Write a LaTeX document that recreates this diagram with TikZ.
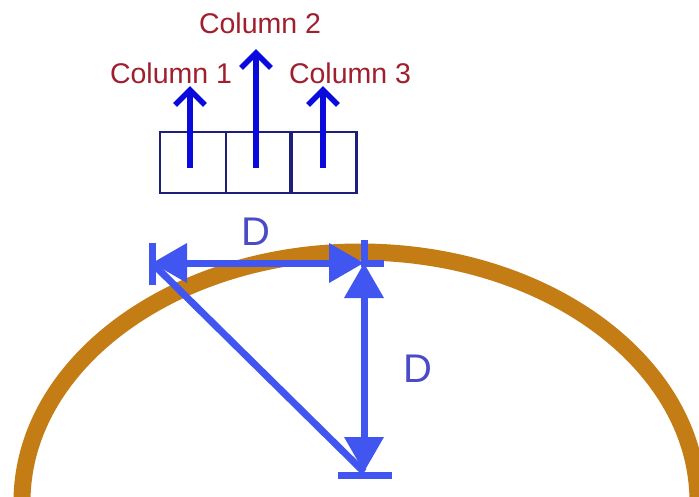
\documentclass[tikz,border=0pt]{standalone}
\usepackage{fontspec}
\setmainfont{Liberation Sans}
\usetikzlibrary{arrows.meta}
\definecolor{colred}{RGB}{160,30,45}
\definecolor{boxnavy}{RGB}{30,30,125}
\definecolor{arrblue}{RGB}{10,10,220}
\definecolor{dimblue}{RGB}{65,85,240}
\definecolor{dblue}{RGB}{75,75,200}
\definecolor{ringbrown}{RGB}{195,125,20}
\tikzset{
  colbox/.style={draw=boxnavy, line width=2.2pt, minimum width=66pt, minimum height=61pt, inner sep=0pt},
  collabel/.style={text=colred, font=\fontsize{28.5}{32}\selectfont, inner sep=0pt},
  uparrow/.style={draw=arrblue, line width=5.5pt, -{Straight Barb[length=15pt,width=30pt,line width=5.5pt]}},
  dimline/.style={draw=dimblue, line width=7pt},
  dimarrow/.style={dimline, {Triangle[length=35pt,width=38pt]}-{Triangle[length=35pt,width=38pt]}},
  dlabel/.style={text=dblue, font=\fontsize{40}{44}\selectfont, inner sep=0pt},
  ring/.style={draw=ringbrown, line width=17pt}
}
\begin{document}
\begin{tikzpicture}[x=1pt,y=-1pt]
\clip (0,0) rectangle (699,496);
\fill[white] (0,0) rectangle (699,496);
% ring
\draw[ring] (360,502) ellipse [x radius=338pt, y radius=250pt];
% boxes
\node[colbox] (b1) at (193,162.5) {};
\node[colbox] (b2) at (259,162.5) {};
\node[colbox] (b3) at (323.5,162.5) {};
% column arrows
\coordinate (a1s) at (190,168); \coordinate (a1e) at (190,86);
\coordinate (a2s) at (256,168); \coordinate (a2e) at (256,49);
\coordinate (a3s) at (323,168); \coordinate (a3e) at (323,86);
\draw[uparrow] (a1s) -- (a1e);
\draw[uparrow] (a2s) -- (a2e);
\draw[uparrow] (a3s) -- (a3e);
% labels
\node[collabel] (c2) at (260,23) {Column 2};
\node[collabel] (c1) at (171,73) {Column 1};
\node[collabel] (c3) at (350,73) {Column 3};
% dimension geometry
\coordinate (L) at (152,263);
\coordinate (R) at (364,263);
\coordinate (B) at (364,472);
\coordinate (Lt) at (152,243); \coordinate (Lb) at (152,285);
\coordinate (Rt) at (364,240);
\coordinate (Rx) at (384,263);
\coordinate (Bl) at (338,475); \coordinate (Br) at (392,475);
\draw[dimline] (Lt) -- (Lb);
\draw[dimline] (Rt) -- (R) -- (Rx);
\draw[dimline] (Bl) -- (Br);
\draw[dimline] (L) -- (B);
\draw[dimarrow] (L) -- (R);
\draw[dimarrow] (R) -- (B);
\node[dlabel] (d1) at (256,232) {D};
\node[dlabel] (d2) at (418,369) {D};
\end{tikzpicture}
\end{document}
